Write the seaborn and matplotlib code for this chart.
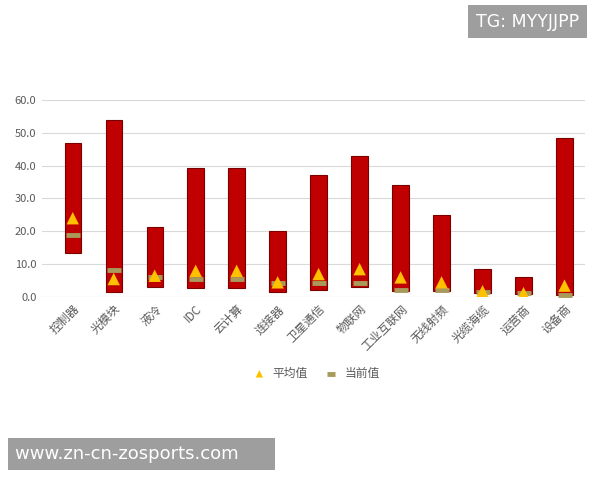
import numpy as np
import pandas as pd
import matplotlib.pyplot as plt
import seaborn as sns

categories = ["控制器", "光模块", "液冷", "IDC", "云计算", "连接器", "卫星通信",
              "物联网", "工业互联网", "无线射频", "光缆海缆", "运营商", "设备商"]
min_vals = [13.5, 1.5, 3.2, 2.8, 2.8, 1.5, 2.3, 3.0, 1.8, 1.8, 1.2, 0.8, 0.5]
max_vals = [47.0, 54.0, 21.3, 39.2, 39.2, 20.0, 37.2, 43.0, 34.0, 25.0, 8.7, 6.0, 48.5]
avg_vals = [24.0, 5.5, 6.5, 8.0, 8.0, 4.5, 7.0, 8.5, 6.0, 4.5, 1.8, 1.2, 3.5]
cur_vals = [19.0, 8.3, 6.0, 5.5, 5.5, 4.2, 4.3, 4.3, 2.2, 2.2, 1.5, 1.2, 0.7]

df = pd.DataFrame({"cat": categories, "lo": min_vals, "hi": max_vals,
                   "avg": avg_vals, "cur": cur_vals})
df["h"] = df["hi"] - df["lo"]

sns.set_style("white")
plt.rcParams['font.family'] = ['Noto Sans CJK SC', 'DejaVu Sans']

fig = plt.figure(figsize=(6, 4.8), dpi=100)
ax = fig.add_axes([0.07, 0.381, 0.905, 0.411])

sns.barplot(data=df, x="cat", y="h", bottom=df["lo"], color="#c00000",
            saturation=1, width=0.4, edgecolor="#7a0000", linewidth=0.8, ax=ax)
sns.scatterplot(data=df, x="cat", y="avg", marker="^", s=80, color="#ffc000",
                edgecolor="none", label="平均值", ax=ax, zorder=4)
sns.scatterplot(data=df, x="cat", y="cur", marker="_", s=90, color="#a89a5a",
                linewidth=3.5, label="当前值", ax=ax, zorder=3)

ax.set_ylim(0, 60)
ax.set_yticks(np.arange(0, 61, 10))
ax.set_yticklabels([f"{v:.1f}" for v in np.arange(0, 61, 10)], fontsize=8, color="#595959")
ax.set_xlim(-0.75, len(categories) - 0.5)
ax.set_xticks(range(len(categories)))
ax.set_xticklabels(categories, rotation=45, ha="right", rotation_mode="anchor",
                   fontsize=8.5, color="#595959")
ax.tick_params(length=0, pad=4)
ax.set_xlabel("")
ax.set_ylabel("")
ax.grid(axis="y", color="#d9d9d9", linewidth=0.8)
ax.set_axisbelow(True)
sns.despine(ax=ax, left=True, bottom=True)
ax.axhline(0, color="#d9d9d9", linewidth=0.8, zorder=0)

ax.legend(loc="upper center", bbox_to_anchor=(0.5, -0.3), ncol=2, frameon=False,
          fontsize=8.5, handletextpad=0.1, columnspacing=1.0, markerscale=0.6,
          labelcolor="#595959")

fig.text(0.965, 0.955, "TG: MYYJJPP", ha="right", va="center", fontsize=12.5, color="white",
         family="DejaVu Sans",
         bbox=dict(boxstyle="square,pad=0.45", fc="#9e9e9e", ec="none"))
fig.text(0.025, 0.054, "www.zn-cn-zosports.com     ", ha="left", va="center", fontsize=13,
         color="white", family="DejaVu Sans",
         bbox=dict(boxstyle="square,pad=0.4", fc="#9e9e9e", ec="none"))

fig.savefig("out.png", dpi=100)
